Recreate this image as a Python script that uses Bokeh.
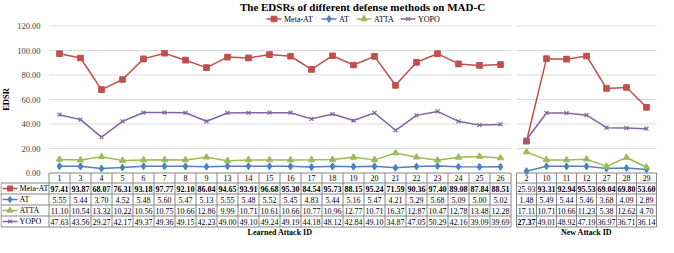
import numpy as np
from bokeh.plotting import figure
from bokeh.models import Range1d, ColumnDataSource
from bokeh.core.properties import value
from bokeh.embed import file_html
from bokeh.resources import INLINE

# ---------------- data ----------------
learned_ids = ["1", "3", "4", "5", "6", "7", "8", "9", "13", "14", "15", "16", "17",
               "18", "19", "20", "21", "22", "23", "24", "25", "26"]
new_ids = ["2", "10", "11", "12", "27", "28", "29"]
series_names = ["Meta-AT", "AT", "ATTA", "YOPO"]

meta_at_learned = [97.41, 93.87, 68.07, 76.31, 93.18, 97.77, 92.10, 86.04, 94.65, 93.91, 96.68,
                   95.30, 84.54, 95.73, 88.15, 95.24, 71.59, 90.36, 97.40, 89.08, 87.84, 88.51]
at_learned = [5.55, 5.44, 3.70, 4.52, 5.48, 5.60, 5.47, 5.13, 5.55, 5.48, 5.52,
              5.45, 4.83, 5.44, 5.16, 5.47, 4.21, 5.29, 5.68, 5.09, 5.00, 5.02]
atta_learned = [11.10, 10.54, 13.32, 10.22, 10.56, 10.75, 10.66, 12.86, 9.99, 10.71, 10.61,
                10.66, 10.77, 10.96, 12.77, 10.71, 16.37, 12.87, 10.47, 12.78, 13.48, 12.28]
yopo_learned = [47.63, 43.56, 29.27, 42.17, 49.37, 49.36, 49.15, 42.23, 49.00, 49.10, 49.24,
                49.19, 44.18, 48.12, 42.84, 49.10, 34.87, 47.05, 50.29, 42.16, 39.09, 39.69]

meta_at_new = [25.93, 93.31, 92.94, 95.53, 69.04, 69.80, 53.60]
at_new = [1.48, 5.49, 5.44, 5.46, 3.68, 4.09, 2.89]
atta_new = [17.11, 10.71, 10.66, 11.23, 5.38, 12.62, 4.70]
yopo_new = [27.37, 49.01, 48.92, 47.19, 36.97, 36.71, 36.14]

y_ticks = [0, 20, 40, 60, 80, 100, 120]
title_text = "The EDSRs of different defense methods on MAD-C"
y_title = "EDSR"
x_title_learned = "Learned Attack ID"
x_title_new = "New Attack ID"

# ---------------- styling / layout ----------------
W, H = 658, 237
FONT = "Liberation Serif"
colors = ["#C0504D", "#4F81BD", "#9BBB59", "#8064A2"]
markers = ["square", "diamond", "triangle", "x"]
msizes = [5.5, 6.5, 6, 5.5]
GRID_C = "#D9D9D9"
BORDER_C = "#868686"

TITLE_Y = 6.5
LEG_Y = 18.5
Y_TOP = 25.5      # pixel row of value 120
Y_ZERO = 172.5    # pixel row of value 0
HEADER_H = 10
ROW_H = 11
L0, CW_L = 48.5, 21.0
R0, CW_R = 516.0, 20.0
LBL0 = 0.5
BOTTOM_Y = 232

k = (Y_ZERO - Y_TOP) / 120.0

p = figure(width=W, height=H, x_range=Range1d(0, W), y_range=Range1d(H, 0),
           output_backend="svg", toolbar_location=None, min_border=0,
           x_axis_location=None, y_axis_location=None, title=None)
p.outline_line_color = None
p.grid.visible = False
p.background_fill_color = "white"
p.border_fill_color = "white"

p.extra_y_ranges = {"val": Range1d(-(H - Y_ZERO) / k, 120 + Y_TOP / k)}
p.extra_x_ranges = {
    "lx": Range1d(-(L0 / CW_L) - 0.5, (W - L0) / CW_L - 0.5),
    "rx": Range1d(-(R0 / CW_R) - 0.5, (W - R0) / CW_R - 0.5),
}

panels = [
    ("lx", learned_ids, [meta_at_learned, at_learned, atta_learned, yopo_learned], L0, CW_L),
    ("rx", new_ids, [meta_at_new, at_new, atta_new, yopo_new], R0, CW_R),
]

# gridlines + axis line
for rname, ids, series, x0, cw in panels:
    n = len(ids)
    gs = ColumnDataSource(dict(y=y_ticks[1:], x0=[-0.5] * (len(y_ticks) - 1),
                               x1=[n - 0.5] * (len(y_ticks) - 1)))
    p.segment(x0="x0", x1="x1", y0="y", y1="y", source=gs, line_color=GRID_C,
              line_width=1, x_range_name=rname, y_range_name="val")
    p.segment(x0=[-0.5], x1=[n - 0.5], y0=[y_ticks[0]], y1=[y_ticks[0]], line_color=BORDER_C,
              line_width=1, x_range_name=rname, y_range_name="val")

# data lines + markers
for rname, ids, series, x0, cw in panels:
    xs = np.arange(len(ids))
    for vals, c, m, ms in zip(series, colors, markers, msizes):
        p.line(xs, vals, line_color=c, line_width=1.5, x_range_name=rname, y_range_name="val")
        p.scatter(xs, vals, marker=m, size=ms, fill_color=c, line_color=c, line_width=1.2,
                  x_range_name=rname, y_range_name="val")

# y tick labels
p.text(x=[40] * len(y_ticks), y=y_ticks, text=[f"{t:.2f}" for t in y_ticks],
       text_font=value(FONT), text_font_size="8.5px",
       text_color="#404040", text_align="right", text_baseline="middle", y_range_name="val")

# y axis title
p.text(x=[5], y=[(Y_TOP + Y_ZERO) / 2], text=[y_title], angle=np.pi / 2,
       text_font=value(FONT), text_font_size="8.5px", text_font_style="bold",
       text_color="#000000", text_align="center", text_baseline="middle")

# title
p.text(x=[362], y=[TITLE_Y], text=[title_text], text_font=value(FONT),
       text_font_size="11px", text_font_style="bold", text_color="#000000",
       text_align="center", text_baseline="middle")

# top legend
leg_x = [266, 321, 356, 400]
for lx, name, c, m, ms in zip(leg_x, series_names, colors, markers, msizes):
    p.line([lx, lx + 15], [LEG_Y, LEG_Y], line_color=c, line_width=1.5)
    p.scatter([lx + 7.5], [LEG_Y], marker=m, size=ms, fill_color=c, line_color=c, line_width=1.2)
    p.text(x=[lx + 17.5], y=[LEG_Y], text=[name], text_font=value(FONT), text_font_size="8px",
           text_color="#000000", text_align="left", text_baseline="middle")

# ---------------- data table ----------------
table_top = Y_ZERO
rows_top = table_top + HEADER_H
row_lines = [rows_top + j * ROW_H for j in range(len(series_names) + 1)]
table_bottom = row_lines[-1]

for rname, ids, series, x0, cw in panels:
    n = len(ids)
    right = x0 + n * cw
    left = LBL0 if rname == "lx" else x0
    # horizontal row lines
    p.segment(x0=[left] * len(row_lines), x1=[right] * len(row_lines), y0=row_lines, y1=row_lines,
              line_color=BORDER_C, line_width=1)
    # vertical column lines (through header row)
    vx = [x0 + i * cw for i in range(n + 1)]
    p.segment(x0=vx, x1=vx, y0=[table_top] * len(vx), y1=[table_bottom] * len(vx),
              line_color=BORDER_C, line_width=1)
    # header ids
    xs = np.arange(n)
    p.text(x=xs, y=[table_top + HEADER_H / 2] * n, text=ids, text_font=value(FONT),
           text_font_size="8px", text_color="#000000", text_align="center",
           text_baseline="middle", x_range_name=rname)
    # values, best per column in bold
    col_max = np.max(np.array(series), axis=0)
    for j, vals in enumerate(series):
        src = ColumnDataSource(dict(
            x=xs, y=[rows_top + ROW_H * (j + 0.5)] * n,
            t=[f"{v:.2f}" for v in vals],
            st=["bold" if v == mx else "normal" for v, mx in zip(vals, col_max)]))
        p.text(x="x", y="y", text="t", text_font_style="st", source=src, text_font=value(FONT),
               text_font_size="8px", text_color="#000000", text_align="center",
               text_baseline="middle", x_range_name=rname)

# label column of table
p.segment(x0=[LBL0], x1=[LBL0], y0=[rows_top], y1=[table_bottom], line_color=BORDER_C, line_width=1)
for j, (name, c, m, ms) in enumerate(zip(series_names, colors, markers, msizes)):
    cy = rows_top + ROW_H * (j + 0.5)
    p.line([2, 17], [cy, cy], line_color=c, line_width=1.5)
    p.scatter([9.5], [cy], marker=m, size=ms - 0.5, fill_color=c, line_color=c, line_width=1.1)
    p.text(x=[19], y=[cy], text=[name], text_font=value(FONT), text_font_size="8px",
           text_color="#000000", text_align="left", text_baseline="middle")

# x axis titles
p.text(x=[L0 + len(learned_ids) * CW_L / 2], y=[BOTTOM_Y], text=[x_title_learned],
       text_font=value(FONT), text_font_size="8px", text_font_style="bold",
       text_color="#000000", text_align="center", text_baseline="middle")
p.text(x=[R0 + len(new_ids) * CW_R / 2], y=[BOTTOM_Y], text=[x_title_new],
       text_font=value(FONT), text_font_size="8px", text_font_style="bold",
       text_color="#000000", text_align="center", text_baseline="middle")

open("out.html", "w").write(file_html(p, INLINE))
